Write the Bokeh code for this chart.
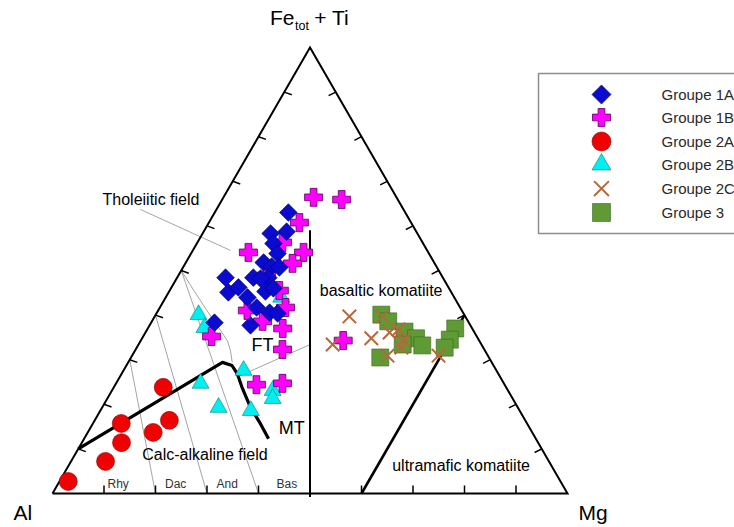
import numpy as np
from bokeh.plotting import figure
from bokeh.models import Range1d
from bokeh.core.properties import value
from bokeh.embed import file_html
from bokeh.resources import INLINE

# ---------------------------------------------------------------
# Cation proportions (%) : Al, Fe(tot)+Ti, Mg
# ---------------------------------------------------------------
g1a_al = [22.7, 25.2, 28.5, 29.1, 29.4, 33.1, 32.0, 30.6, 36.8, 33.9, 42.2,
          43.3, 40.8, 40.2, 39.5, 36.0, 34.1, 37.6, 36.1, 42.7, 49.4, 35.5]
g1a_fe = [63.0, 58.7, 58.3, 56.1, 53.8, 51.8, 50.9, 50.7, 48.4, 48.4, 48.4,
          45.1, 46.2, 44.0, 41.7, 45.3, 46.0, 40.6, 40.4, 37.7, 38.3, 48.2]
g1a_mg = [14.3, 16.1, 13.2, 14.9, 16.8, 15.1, 17.1, 18.7, 14.8, 17.7, 9.4,
          11.6, 13.0, 15.9, 18.8, 18.7, 19.9, 21.9, 23.5, 19.6, 12.3, 16.3]

g1b_al = [16.1, 10.9, 21.7, 34.9, 24.2, 27.6, 27.2, 33.2, 33.9, 39.9, 36.8,
          39.2, 51.5, 48.2, 43.0, 26.4, 41.6, 34.0]
g1b_fe = [66.4, 65.9, 60.8, 54.0, 54.0, 51.6, 56.3, 45.5, 41.7, 38.6, 37.0,
          32.3, 35.2, 24.4, 24.7, 34.3, 41.0, 48.9]
g1b_mg = [17.5, 23.2, 17.6, 11.0, 21.7, 20.8, 16.5, 21.3, 24.4, 21.5, 26.2,
          28.5, 13.3, 27.4, 32.3, 39.3, 17.3, 17.1]

g2a_al = [66.6, 78.8, 80.9, 73.6, 69.1, 86.1, 95.6]
g2a_fe = [23.8, 15.7, 11.4, 13.7, 16.4, 7.2, 2.7]
g2a_mg = [9.6, 5.5, 7.7, 12.7, 14.5, 6.7, 1.7]

g2b_al = [51.6, 51.9, 58.9, 49.1, 58.1, 52.2, 45.7, 46.6, 33.6]
g2b_fe = [40.1, 37.2, 24.7, 27.6, 19.3, 18.6, 23.1, 21.3, 44.0]
g2b_mg = [8.3, 10.9, 16.4, 23.3, 22.6, 29.2, 31.2, 32.1, 22.4]

g2c_al = [22.5, 28.9, 20.7, 16.1, 16.5, 14.4, 14.7, 15.9, 19.5, 9.6]
g2c_fe = [39.7, 33.4, 34.8, 39.7, 36.1, 36.8, 34.3, 32.7, 30.9, 30.9]
g2c_mg = [37.8, 37.7, 44.5, 44.2, 47.4, 48.8, 51.0, 51.4, 49.6, 59.5]

g3_al = [16.1, 15.5, 13.5, 12.0, 11.6, 15.3, 21.1, 3.3, 5.6, 7.5]
g3_fe = [40.1, 38.6, 36.3, 34.8, 33.2, 33.4, 30.5, 37.0, 34.5, 32.7]
g3_mg = [43.8, 45.9, 50.2, 53.2, 55.2, 51.3, 48.4, 59.7, 59.9, 59.8]

group_names = ["Groupe 1A", "Groupe 1B", "Groupe 2A", "Groupe 2B", "Groupe 2C", "Groupe 3"]

# ---------------------------------------------------------------
# Field boundaries of the Jensen cation plot (Al, Fe+Ti, Mg in %)
# ---------------------------------------------------------------
komatiite_sep_al = [50.4, 20.5]
komatiite_sep_fe = [-0.8, 59.0]
komatiite_sep_mg = [50.4, 20.5]

ultramafic_al = [40.0, 0.0]
ultramafic_fe = [0.0, 40.0]
ultramafic_mg = [60.0, 60.0]

calc_alk_al = [90.0, 52.3, 50.8, 50.7, 51.3, 51.9, 51.8, 51.9]
calc_alk_fe = [10.0, 29.4, 28.7, 26.8, 23.8, 19.4, 15.6, 12.3]
calc_alk_mg = [0.0, 18.3, 20.5, 22.5, 24.9, 28.7, 32.6, 35.8]

thol_sep_al = [50.0, 49.8, 49.5, 49.1, 48.9, 49.4, 50.4]
thol_sep_fe = [50.0, 45.5, 41.0, 36.6, 34.3, 32.1, 29.4]
thol_sep_mg = [0.0, 4.7, 9.5, 14.3, 16.8, 18.5, 20.2]

ft_mt_al = [51.1, 33.3]
ft_mt_fe = [26.1, 33.4]
ft_mt_mg = [22.8, 33.3]

# rhyolite / dacite / andesite / basalt dividers
rock_div_al = [[80.0, 70.0], [70.0, 60.0], [60.0, 50.0]]
rock_div_fe = [[0.0, 30.0], [0.0, 40.0], [0.0, 50.0]]
rock_div_mg = [[20.0, 0.0], [30.0, 0.0], [40.0, 0.0]]

leader_al = [51.1, 38.2]
leader_fe = [63.7, 54.5]
leader_mg = [-14.8, 7.3]

tick_values = [10, 20, 30, 40, 50, 60, 70, 80, 90]

SQ3 = np.sqrt(3.0)


def tern(al, fe, mg):
    """Ternary (Al, Fe+Ti, Mg) -> cartesian; Al bottom-left, Mg bottom-right."""
    al, fe, mg = (np.asarray(v, dtype=float) for v in (al, fe, mg))
    s = al + fe + mg
    return (mg + fe / 2.0) / s, fe / s * SQ3 / 2.0


W, H = 734, 527
SCALE = 515.0          # pixels per unit triangle side
X0, Y0 = 52.0, 493.0   # pixel position of the Al corner

p = figure(width=W, height=H, output_backend="svg", toolbar_location=None,
           x_axis_location=None, y_axis_location=None,
           x_range=Range1d(-X0 / SCALE, (W - X0) / SCALE),
           y_range=Range1d(-(H - Y0) / SCALE, Y0 / SCALE),
           min_border=0, outline_line_color=None,
           background_fill_color="white", border_fill_color="white")
p.grid.visible = False

FONT = value("Liberation Sans")

# thin grey construction lines
GREY = dict(line_color="#9a9a9a", line_width=0.9)
for a, f, m in zip(rock_div_al, rock_div_fe, rock_div_mg):
    x, y = tern(a, f, m)
    p.line(x, y, **GREY)
for a, f, m in [(thol_sep_al, thol_sep_fe, thol_sep_mg),
                (ft_mt_al, ft_mt_fe, ft_mt_mg),
                (leader_al, leader_fe, leader_mg)]:
    x, y = tern(a, f, m)
    p.line(x, y, **GREY)

# triangle frame
x, y = tern([100, 0, 0, 100], [0, 100, 0, 0], [0, 0, 100, 0])
p.line(x, y, line_color="black", line_width=2, line_join="miter")

# ticks pointing into the triangle
L = 8.0 / SCALE
t = np.asarray(tick_values, dtype=float)
lx, ly = tern(100 - t, t, 0 * t)
p.segment(lx, ly, lx + L * 0.94, ly - L * 0.34, line_color="black", line_width=1.5)
rx, ry = tern(0 * t, t, 100 - t)
p.segment(rx, ry, rx - L * 0.89, ry - L * 0.45, line_color="black", line_width=1.5)
bx, by = tern(100 - t, 0 * t, t)
p.segment(bx, by, bx, by + L, line_color="black", line_width=1.5)

# field boundaries
x, y = tern(komatiite_sep_al, komatiite_sep_fe, komatiite_sep_mg)
p.line(x, y, line_color="black", line_width=2)
x, y = tern(ultramafic_al, ultramafic_fe, ultramafic_mg)
p.line(x, y, line_color="black", line_width=2.6)
x, y = tern(calc_alk_al, calc_alk_fe, calc_alk_mg)
p.line(x, y, line_color="black", line_width=3.2, line_join="round")

# sample groups
styles = [
    dict(marker="square", angle=np.pi / 4, size=12.5, fill_color="#0B0BCF",
         line_color="#00006A", line_width=0.6),
    dict(marker="plus", size=18, fill_color="#FF00FF", line_color="#5A005A", line_width=0.8),
    dict(marker="circle", size=18, fill_color="#F00000", line_color="#8A0000", line_width=0.6),
    dict(marker="triangle", size=17, fill_color="#00F0F0", line_color="#008080", line_width=0.6),
    dict(marker="x", size=19, line_color="#B4683C", line_width=2),
    dict(marker="square", size=17, fill_color="#5F9A35", line_color="#3D6622", line_width=0.6),
]
legend_sizes = [13.5, 18, 19, 19, 21, 18]

groups = [(g1a_al, g1a_fe, g1a_mg), (g1b_al, g1b_fe, g1b_mg), (g2a_al, g2a_fe, g2a_mg),
          (g2b_al, g2b_fe, g2b_mg), (g2c_al, g2c_fe, g2c_mg), (g3_al, g3_fe, g3_mg)]
draw_order = [3, 1, 0, 2, 5, 4]
for i in draw_order:
    x, y = tern(*groups[i])
    p.scatter(x, y, **styles[i])


def label(x, y, text, size, color="black"):
    """Text whose baseline sits at (x, y); the small lift compensates the
    renderer's placement of alphabetic baselines."""
    lift = 0.4 * size / SCALE
    p.text([x], [y + lift], text=[text], text_font=FONT, text_font_size=value(f"{size}px"),
           text_color=color, text_align="left", text_baseline="alphabetic")


label(0.0971, 0.5583, "Tholeiitic field", 16)
label(0.5190, 0.3812, "basaltic komatiite", 16)
label(0.3864, 0.2744, "FT", 18)
label(0.4394, 0.1126, "MT", 18)
label(0.1742, 0.0641, "Calc-alkaline field", 16)
label(0.6596, 0.0414, "ultramafic komatiite", 16)
for xx, name in zip([0.1068, 0.2184, 0.3184, 0.4350], ["Rhy", "Dac", "And", "Bas"]):
    label(xx, 0.0087, name, 12, "#333333")

# apex labels
label(0.4223, 0.9074, "Fe", 21)
label(0.4709, 0.8990, "tot", 12.5)
label(0.5083, 0.9074, "+ Ti", 21)
label(-0.0757, -0.0524, "Al", 21)
label(1.0214, -0.0524, "Mg", 21)

# legend box
p.quad(left=[0.9437], right=[1.40], top=[0.8155], bottom=[0.5049],
       fill_color=None, line_color="#8c8c8c", line_width=1.5)
leg_rows = [0.7748, 0.7301, 0.6835, 0.6388, 0.5922, 0.5456]
for i, (row, name) in enumerate(zip(leg_rows, group_names)):
    st = dict(styles[i])
    st["size"] = legend_sizes[i]
    p.scatter([1.0660], [row], **st)
    p.text([1.1825], [row], text=[name], text_font=FONT, text_font_size=value("15px"),
           text_color="#2a2a2a", text_align="left", text_baseline="middle")

open("out.html", "w").write(file_html(p, INLINE))
